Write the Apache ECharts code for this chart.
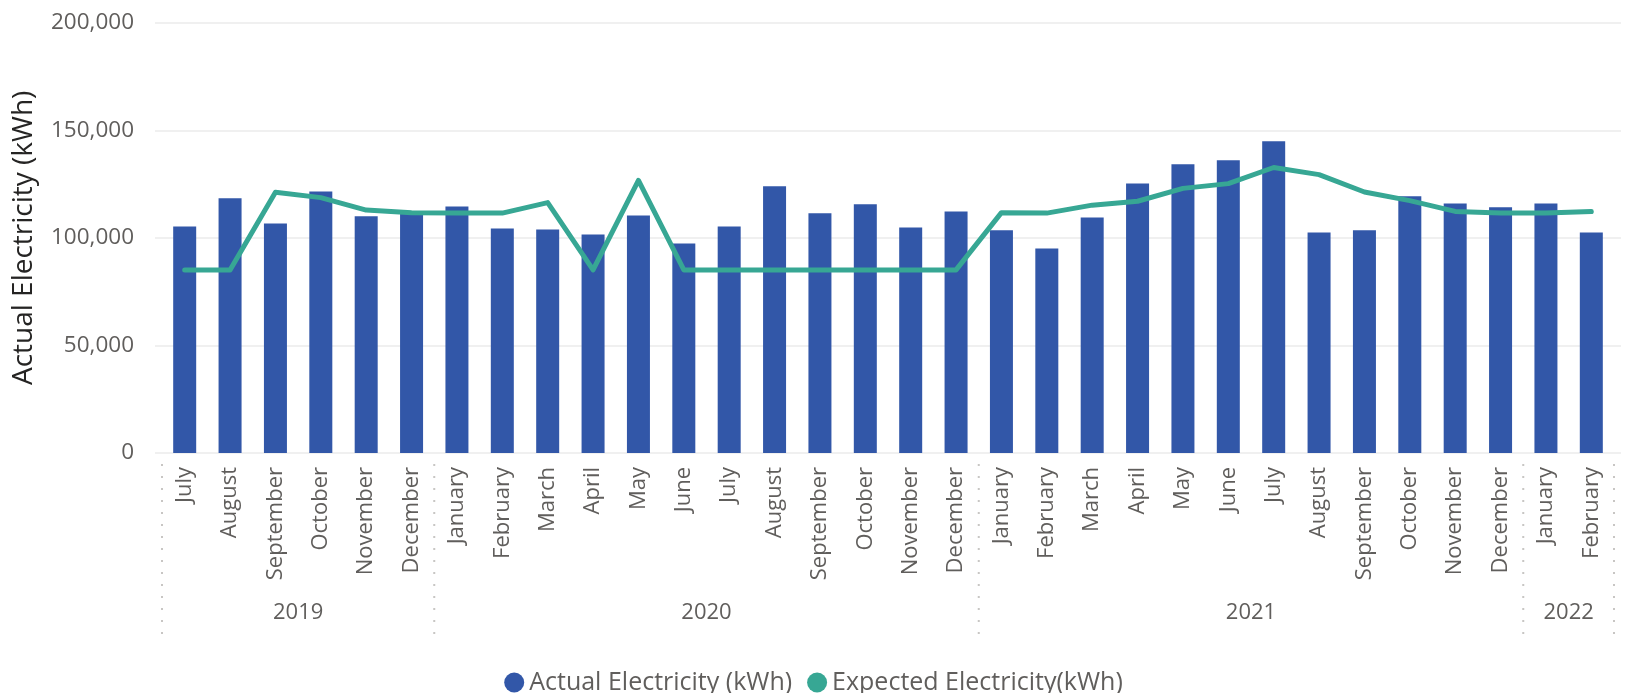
<!DOCTYPE html>
<html>
<head>
<meta charset="utf-8">
<title>Actual vs Expected Electricity</title>
<script src="https://cdn.jsdelivr.net/npm/echarts@6/dist/echarts.min.js"></script>
<style>
  html, body { margin: 0; padding: 0; background: #ffffff; }
  #chart { width: 1627px; height: 693px; }
</style>
</head>
<body>
<div id="chart"></div>
<script>
// Monthly electricity, July 2019 – February 2022
const months = [
  'July', 'August', 'September', 'October', 'November', 'December',
  'January', 'February', 'March', 'April', 'May', 'June',
  'July', 'August', 'September', 'October', 'November', 'December',
  'January', 'February', 'March', 'April', 'May', 'June',
  'July', 'August', 'September', 'October', 'November', 'December',
  'January', 'February'
];
const yearLabels = ['2019', '2020', '2021', '2022'];
const monthsPerYear = [6, 12, 12, 2];

const actualKWh = [
  105300, 118400, 106700, 121600, 110000, 112000,
  114600, 104400, 103900, 101600, 110400, 97400,
  105300, 124000, 111400, 115600, 104800, 112300,
  103500, 95100, 109500, 125300, 134200, 136100,
  144900, 102500, 103500, 119300, 116000, 114200,
  116000, 102500
];
const expectedKWh = [
  85100, 85100, 121200, 118700, 112900, 111700,
  111500, 111500, 116400, 85100, 126700, 85100,
  85100, 85100, 85100, 85100, 85100, 85100,
  111700, 111500, 115200, 117000, 123000, 125200,
  132700, 129400, 121300, 117300, 112300, 111500,
  111500, 112200
];
const yTicks = { min: 0, max: 200000, interval: 50000 };

const FONT = "'Open Sans', 'Noto Sans', sans-serif";
const TEXT_GREY = '#605E5C';
const BAR_BLUE = '#3257A8';
const LINE_TEAL = '#37A794';

const chart = echarts.init(document.getElementById('chart'), null, { renderer: 'canvas' });

chart.setOption({
  animation: false,
  backgroundColor: '#ffffff',
  textStyle: { fontFamily: FONT },
  grid: [
    // full-width frame for the gridlines and value labels
    { left: 155, right: 6, top: 22.7, bottom: 240 },
    // inset plot area holding the categories
    { left: 162, right: 13, top: 22.7, bottom: 240 }
  ],
  xAxis: [
    { gridIndex: 0, type: 'category', data: months, show: false },
    {
      gridIndex: 1, type: 'category', data: months,
      axisLine: { show: false }, axisTick: { show: false },
      axisLabel: {
        interval: 0, rotate: 90, margin: 14,
        fontSize: 22, color: TEXT_GREY, fontFamily: FONT
      }
    }
  ],
  yAxis: [
    {
      gridIndex: 0, type: 'value',
      min: yTicks.min, max: yTicks.max, interval: yTicks.interval,
      axisLine: { show: false }, axisTick: { show: false },
      axisLabel: {
        margin: 21, fontSize: 22.5, color: TEXT_GREY, fontFamily: FONT,
        formatter: v => v.toLocaleString('en-US')
      },
      splitLine: { lineStyle: { color: '#F0F0F0', width: 2 } },
      name: 'Actual Electricity (kWh)',
      nameLocation: 'middle',
      nameGap: 117,
      nameTextStyle: { fontSize: 28, color: '#252423', fontFamily: FONT }
    },
    {
      gridIndex: 1, type: 'value',
      min: yTicks.min, max: yTicks.max, interval: yTicks.interval,
      show: false, splitLine: { show: false }
    }
  ],
  legend: {
    data: [
      { name: 'Actual Electricity (kWh)', itemStyle: { color: BAR_BLUE, borderWidth: 0 } },
      { name: 'Expected Electricity(kWh)', itemStyle: { color: LINE_TEAL, borderWidth: 0 } }
    ],
    icon: 'circle',
    itemWidth: 20,
    itemHeight: 20,
    itemGap: 15,
    left: 'center',
    top: 665,
    textStyle: { fontSize: 25, color: TEXT_GREY, fontFamily: FONT }
  },
  series: [
    {
      name: 'Actual Electricity (kWh)',
      type: 'bar',
      xAxisIndex: 1, yAxisIndex: 1,
      data: actualKWh,
      barWidth: 23,
      itemStyle: { color: BAR_BLUE }
    },
    {
      name: 'Expected Electricity(kWh)',
      type: 'line',
      xAxisIndex: 1, yAxisIndex: 1,
      data: expectedKWh,
      showSymbol: false,
      symbol: 'none',
      z: 5,
      itemStyle: { color: LINE_TEAL },
      lineStyle: { color: LINE_TEAL, width: 5, cap: 'round', join: 'round' }
    }
  ]
});

// Year captions and dotted year separators under the month labels
const px = i => chart.convertToPixel({ xAxisIndex: 1 }, i);
const band = px(1) - px(0);
const graphics = [];
let start = 0;
yearLabels.forEach((label, g) => {
  const count = monthsPerYear[g];
  const xl = px(start) - band / 2;
  graphics.push({
    type: 'line', silent: true,
    shape: { x1: xl, y1: 464, x2: xl, y2: 634 },
    style: { stroke: '#C8C6C4', lineWidth: 2, lineDash: [2, 10] }
  });
  const cx = (px(start) + px(start + count - 1)) / 2;
  graphics.push({
    type: 'text', silent: true, x: cx, y: 613,
    style: {
      text: label, fill: TEXT_GREY,
      fontSize: 22, fontFamily: FONT,
      align: 'center', verticalAlign: 'middle',
      textAlign: 'center', textVerticalAlign: 'middle'
    }
  });
  start += count;
});
const xEnd = px(start - 1) + band / 2;
graphics.push({
  type: 'line', silent: true,
  shape: { x1: xEnd, y1: 464, x2: xEnd, y2: 634 },
  style: { stroke: '#C8C6C4', lineWidth: 2, lineDash: [2, 10] }
});
chart.setOption({ graphic: graphics });
</script>
</body>
</html>
